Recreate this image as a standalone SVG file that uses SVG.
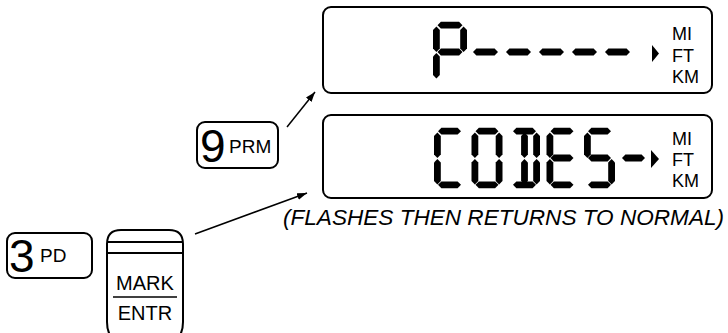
<svg xmlns="http://www.w3.org/2000/svg" xmlns:xlink="http://www.w3.org/1999/xlink" width="728" height="333" viewBox="0 0 728 333">
  <style>
    .box { fill: #fff; stroke: #000; stroke-width: 2; }
    .seg { fill: #000; }
    .unit { font-family: "Liberation Sans", Arial, sans-serif; font-size: 18px; fill: #000; }
    .big { font-family: "Liberation Sans", Arial, sans-serif; font-size: 46px; fill: #000; }
    .small { font-family: "Liberation Sans", Arial, sans-serif; font-size: 19px; fill: #000; }
    .keytxt { font-family: "Liberation Sans", Arial, sans-serif; font-size: 20px; fill: #000; text-anchor: middle; }
    .caption { font-family: "Liberation Sans", Arial, sans-serif; font-size: 22px; font-style: italic; fill: #000; }
    .conn { stroke: #000; stroke-width: 1.5; fill: none; marker-end: url(#arrow); }
    .line { stroke: #000; stroke-width: 2; }
  </style>
  <defs>
    <marker id="arrow" markerUnits="userSpaceOnUse" markerWidth="11" markerHeight="8" refX="10" refY="3.5" orient="auto">
      <path d="M0,0 L10,3.5 L0,7 z" fill="#000"/>
    </marker>
    <polygon id="ht" class="seg" points="0,0 3.4,-3.4 21.6,-3.4 25,0 21.6,3.4 3.4,3.4"/>
    <polygon id="hb" class="seg" points="0,0 3.4,-3.4 19.6,-3.4 23,0 19.6,3.4 3.4,3.4"/>
    <polygon id="v" class="seg" points="0,0 3.4,3.4 3.4,22.1 0,25.5 -3.4,22.1 -3.4,3.4"/>
  </defs>

  <g id="display-top">
    <rect class="box" x="323" y="7" width="389" height="86" rx="8"/>
    <g id="top-digits">
      <use xlink:href="#ht" x="437.5" y="25.2"/>
      <use xlink:href="#v" x="436.4" y="26.5"/>
      <use xlink:href="#v" x="463.6" y="26.5"/>
      <use xlink:href="#ht" x="437.5" y="52"/>
      <use xlink:href="#v" x="436.4" y="53"/>
      <use xlink:href="#ht" x="473" y="52"/>
      <use xlink:href="#ht" x="506" y="52"/>
      <use xlink:href="#ht" x="539" y="52"/>
      <use xlink:href="#ht" x="572" y="52"/>
      <use xlink:href="#ht" x="605" y="52"/>
    </g>
    <polygon points="652,45 659,53.5 652,62" fill="#000"/>
    <text class="unit" x="672" y="40">MI</text>
    <text class="unit" x="672" y="62">FT</text>
    <text class="unit" x="672" y="83">KM</text>
  </g>

  <g id="display-bottom">
    <rect class="box" x="323" y="115" width="389" height="83" rx="8"/>
    <g id="bottom-digits">
      <use xlink:href="#hb" x="438" y="131.2"/>
      <use xlink:href="#hb" x="438" y="184.8"/>
      <use xlink:href="#v" x="437.4" y="132.5"/>
      <use xlink:href="#v" x="437.4" y="159"/>
      <use xlink:href="#hb" x="475.5" y="131.2"/>
      <use xlink:href="#hb" x="475.5" y="184.8"/>
      <use xlink:href="#v" x="474.9" y="132.5"/>
      <use xlink:href="#v" x="474.9" y="159"/>
      <use xlink:href="#v" x="499.1" y="132.5"/>
      <use xlink:href="#v" x="499.1" y="159"/>
      <use xlink:href="#hb" x="513" y="131.2"/>
      <use xlink:href="#hb" x="513" y="184.8"/>
      <use xlink:href="#v" x="524.5" y="132.5"/>
      <use xlink:href="#v" x="524.5" y="159"/>
      <use xlink:href="#v" x="536.6" y="132.5"/>
      <use xlink:href="#v" x="536.6" y="159"/>
      <use xlink:href="#hb" x="550.5" y="131.2"/>
      <use xlink:href="#hb" x="550.5" y="158"/>
      <use xlink:href="#hb" x="550.5" y="184.8"/>
      <use xlink:href="#v" x="549.9" y="132.5"/>
      <use xlink:href="#v" x="549.9" y="159"/>
      <use xlink:href="#hb" x="588" y="131.2"/>
      <use xlink:href="#v" x="587.4" y="132.5"/>
      <use xlink:href="#hb" x="588" y="158"/>
      <use xlink:href="#v" x="611.6" y="159"/>
      <use xlink:href="#hb" x="588" y="184.8"/>
      <use xlink:href="#hb" x="622" y="158"/>
    </g>
    <polygon points="651,150 659,159 651,168" fill="#000"/>
    <text class="unit" x="672" y="145">MI</text>
    <text class="unit" x="672" y="166">FT</text>
    <text class="unit" x="672" y="187">KM</text>
  </g>

  <g id="caption">
    <text class="caption" x="283" y="225" textLength="441" lengthAdjust="spacingAndGlyphs">(FLASHES THEN RETURNS TO NORMAL)</text>
  </g>

  <g id="key-9prm">
    <rect class="box" x="197" y="122" width="81" height="46" rx="8"/>
    <text class="big" x="200" y="162">9</text>
    <text class="small" x="229" y="153">PRM</text>
  </g>

  <g id="key-3pd">
    <rect class="box" x="7" y="233" width="85" height="45" rx="8"/>
    <text class="big" x="9" y="272">3</text>
    <text class="small" x="40" y="262">PD</text>
  </g>

  <g id="key-mark-entr">
    <path class="box" d="M110,335 Q107,330 107,322 V244 Q107,230 121,230 H169 Q183,230 183,244 V322 Q183,330 180,335"/>
    <line class="line" x1="107" y1="242" x2="183" y2="242"/>
    <line class="line" x1="107" y1="253" x2="183" y2="253"/>
    <text class="keytxt" x="145" y="290">MARK</text>
    <line x1="113" y1="297" x2="177" y2="297" stroke="#000" stroke-width="1.5"/>
    <text class="keytxt" x="145" y="320">ENTR</text>
  </g>

  <g id="connectors">
    <line class="conn" x1="287" y1="127" x2="315" y2="92"/>
    <line class="conn" x1="195" y1="234" x2="307" y2="193"/>
  </g>
</svg>
